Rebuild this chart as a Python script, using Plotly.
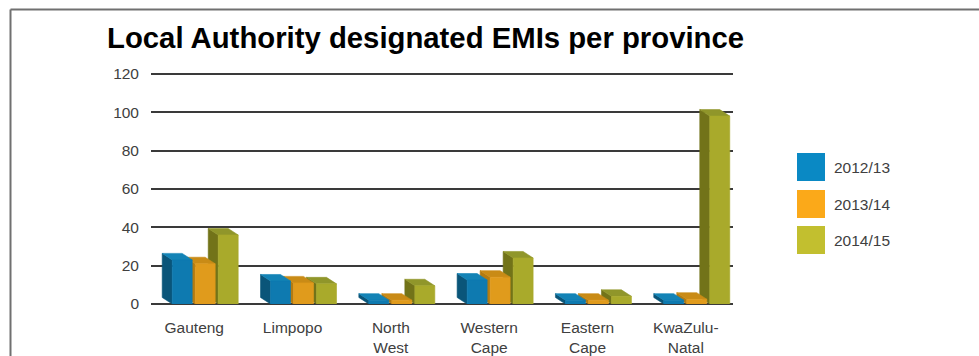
import plotly.graph_objects as go

categories = ["Gauteng", "Limpopo", "North<br>West", "Western<br>Cape", "Eastern<br>Cape", "KwaZulu-<br>Natal"]
series_names = ["2012/13", "2013/14", "2014/15"]
v_2012 = [23, 12, 2, 12.5, 2, 2]
v_2013 = [21, 11, 2, 14, 2, 2.5]
v_2014 = [36, 10.5, 9.5, 24, 4, 98]
y_ticks = [0, 20, 40, 60, 80, 100, 120]

values = [v_2012, v_2013, v_2014]
front_cols = ["#0E7AB0", "#E09B1C", "#A9AA2B"]
side_cols = ["#0A5579", "#B27B12", "#727319"]
top_cols = ["#1383B6", "#C98B16", "#90962A"]
legend_cols = ["#0A89C4", "#FBA919", "#C2BF2F"]

offsets = [-0.224, 0.01, 0.244]
width = 0.203
dx = -0.102
dy = 3.4

fig = go.Figure()

def add_poly(xs, ys, color):
    fig.add_trace(go.Scatter(x=xs, y=ys, mode="lines", fill="toself", fillcolor=color,
                             line=dict(color=color, width=0.6), hoverinfo="skip",
                             showlegend=False))

for s in [2, 1, 0]:
    side_x, side_y, top_x, top_y, fr_x, fr_y = [], [], [], [], [], []
    for i, v in enumerate(values[s]):
        xl = i + offsets[s]
        xr = xl + width
        side_x += [xl, xl, xl + dx, xl + dx, xl, None]
        side_y += [0, v, v + dy, dy, 0, None]
        top_x += [xl, xr, xr + dx, xl + dx, xl, None]
        top_y += [v, v, v + dy, v + dy, v, None]
        fr_x += [xl, xr, xr, xl, xl, None]
        fr_y += [0, 0, v, v, 0, None]
    add_poly(side_x, side_y, side_cols[s])
    add_poly(top_x, top_y, top_cols[s])
    add_poly(fr_x, fr_y, front_cols[s])

W, H = 979, 356
L, R, T, B = 151, 733, 72, 304
pw, ph = R - L, B - T

def px(x):
    return (x - L) / pw

def py(y):
    return (B - y) / ph

FONT = "Liberation Sans, Arial, sans-serif"
shapes = [
    dict(type="line", xref="paper", yref="paper", x0=px(10.5), x1=px(1200), y0=py(9.5), y1=py(9.5),
         line=dict(color="#707070", width=2)),
    dict(type="line", xref="paper", yref="paper", x0=px(10.5), x1=px(10.5), y0=py(9.5), y1=py(400),
         line=dict(color="#707070", width=2)),
]
annotations = []
leg_tops = [153, 190, 226]
for k, name in enumerate(series_names):
    t0 = leg_tops[k]
    shapes.append(dict(type="rect", xref="paper", yref="paper", x0=px(797), x1=px(825),
                       y0=py(t0), y1=py(t0 + 28), fillcolor=legend_cols[k], line=dict(width=0)))
    annotations.append(dict(text=name, xref="paper", yref="paper", x=px(832), y=py(t0 + 14),
                            xanchor="left", yanchor="middle", showarrow=False,
                            font=dict(family=FONT, size=15.5, color="#404040")))

fig.update_layout(
    width=W, height=H,
    margin=dict(l=L, r=W - R, t=T, b=H - B, autoexpand=False),
    paper_bgcolor="white", plot_bgcolor="white",
    showlegend=False,
    title=dict(text="<b>Local Authority designated EMIs per province</b>",
               xref="container", yref="container", x=107 / W, xanchor="left",
               y=1 - 38 / H, yanchor="middle",
               font=dict(family=FONT, size=29.3, color="#000000")),
    shapes=shapes,
    annotations=annotations,
    xaxis=dict(range=[-0.44, 5.48], tickmode="array", tickvals=list(range(len(categories))),
               ticktext=categories, showgrid=False, zeroline=False, showline=False, ticks="",
               ticklabelstandoff=12, automargin=False,
               tickfont=dict(family=FONT, size=15.5, color="#404040"),
               fixedrange=True),
    yaxis=dict(range=[0, 121], tickmode="array", tickvals=y_ticks, showgrid=True,
               gridcolor="#3a3a3a", gridwidth=2, zeroline=True, zerolinecolor="#3a3a3a",
               zerolinewidth=2, showline=False, ticks="", ticklabelstandoff=11,
               automargin=False,
               tickfont=dict(family=FONT, size=15.5, color="#404040"),
               fixedrange=True),
)

fig.write_html("out.html")
